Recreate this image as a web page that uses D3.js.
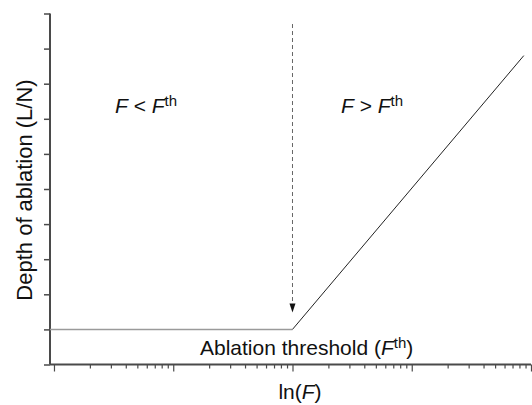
<!DOCTYPE html>
<html>
<head>
<meta charset="utf-8">
<script src="https://cdn.jsdelivr.net/npm/d3@7"></script>
<style>
  html, body { margin: 0; padding: 0; background: #fff; }
  svg { display: block; }
  text { font-family: "Liberation Sans", Arial, Helvetica, sans-serif; fill: #111; }
</style>
</head>
<body>
<svg id="chart" width="532" height="405"></svg>
<script>
// Fluence axis (log scale) and depth axis (linear, unlabelled ticks)
const xDomain = [0.926, 10000];
const xMajorTicks = [1, 10, 100, 1000, 10000];
const xMinorMultipliers = [2, 3, 4, 5, 6, 7, 8, 9];
const yDomain = [0, 10];
const yTicks = [0, 1, 2, 3, 4, 5, 6, 7, 8, 9, 10];

// Ablation response: flat below threshold, rising linearly in ln(F) above it
const thresholdF = 100;
const thresholdDepth = 1;
const belowThreshold = [[0.926, 1], [100, 1]];
const aboveThreshold = [[100, 1], [8700, 8.8]];
const arrowTop = 9.7;   // depth where the dashed threshold marker starts

const svg = d3.select("#chart");
const x = d3.scaleLog().domain(xDomain).range([50, 531]);
const y = d3.scaleLinear().domain(yDomain).range([364.5, 13.5]);

const axisColor = "#4a4a4a";

// x ticks: majors at decades, minors in between
const minorTicks = [];
xMajorTicks.slice(0, -1).forEach(d => xMinorMultipliers.forEach(m => minorTicks.push(d * m)));

const gx = svg.append("g").attr("transform", `translate(0,${y(0)})`);
gx.call(d3.axisBottom(x).tickValues(xMajorTicks).tickSize(7).tickFormat(""));
gx.append("g").call(d3.axisBottom(x).tickValues(minorTicks).tickSize(4).tickFormat(""))
  .select(".domain").remove();
gx.selectAll("path.domain").attr("stroke", axisColor).attr("stroke-width", 2)
  .attr("d", `M${x.range()[0]},0H${x.range()[1]}`);
gx.selectAll(".tick line").attr("stroke", axisColor).attr("stroke-width", 1.2);

const gy = svg.append("g").attr("transform", `translate(${x.range()[0]},0)`);
gy.call(d3.axisLeft(y).tickValues(yTicks).tickSize(6).tickFormat(""));
gy.select("path.domain").attr("stroke", axisColor).attr("stroke-width", 2)
  .attr("d", `M0,${y.range()[0]}V${y.range()[1]}`);
gy.selectAll(".tick line").attr("stroke", axisColor).attr("stroke-width", 1.5);

const line = d3.line().x(d => x(d[0])).y(d => y(d[1]));

svg.append("path").datum(belowThreshold).attr("d", line)
  .attr("fill", "none").attr("stroke", "#9a9a9a").attr("stroke-width", 1.5);
svg.append("path").datum(aboveThreshold).attr("d", line)
  .attr("fill", "none").attr("stroke", "#222").attr("stroke-width", 1);

// dashed marker pointing down at the threshold
const ax = x(thresholdF);
const tipY = y(thresholdDepth) - 17;
svg.append("line")
  .attr("x1", ax).attr("x2", ax)
  .attr("y1", y(arrowTop)).attr("y2", tipY - 6)
  .attr("stroke", "#666").attr("stroke-width", 1).attr("stroke-dasharray", "4,3");
svg.append("path")
  .attr("d", `M${ax - 3},${tipY - 9}L${ax + 3},${tipY - 9}L${ax},${tipY}Z`)
  .attr("fill", "#111");

// region labels
function regionLabel(cx, baseline, op) {
  const t = svg.append("text").attr("x", cx).attr("y", baseline)
    .attr("font-size", 21).attr("text-anchor", "start");
  t.append("tspan").attr("font-style", "italic").text("F");
  t.append("tspan").text(` ${op} `);
  t.append("tspan").attr("font-style", "italic").text("F");
  t.append("tspan").attr("font-size", 15).attr("dy", -7).text("th");
}
regionLabel(115, 113, "<");
regionLabel(341, 113, ">");

// threshold label under the flat segment
const th = svg.append("text").attr("x", 200).attr("y", 355).attr("font-size", 21);
th.append("tspan").text("Ablation threshold (");
th.append("tspan").attr("font-style", "italic").text("F");
th.append("tspan").attr("font-size", 15).attr("dy", -7).text("th");
th.append("tspan").attr("dy", 7).text(")");

// axis titles
const xt = svg.append("text").attr("x", 300).attr("y", 399)
  .attr("text-anchor", "middle").attr("font-size", 21);
xt.append("tspan").text("ln(");
xt.append("tspan").attr("font-style", "italic").text("F");
xt.append("tspan").text(")");

svg.append("text")
  .attr("transform", "translate(32,190) rotate(-90)")
  .attr("text-anchor", "middle").attr("font-size", 22)
  .text("Depth of ablation (L/N)");
</script>
</body>
</html>
